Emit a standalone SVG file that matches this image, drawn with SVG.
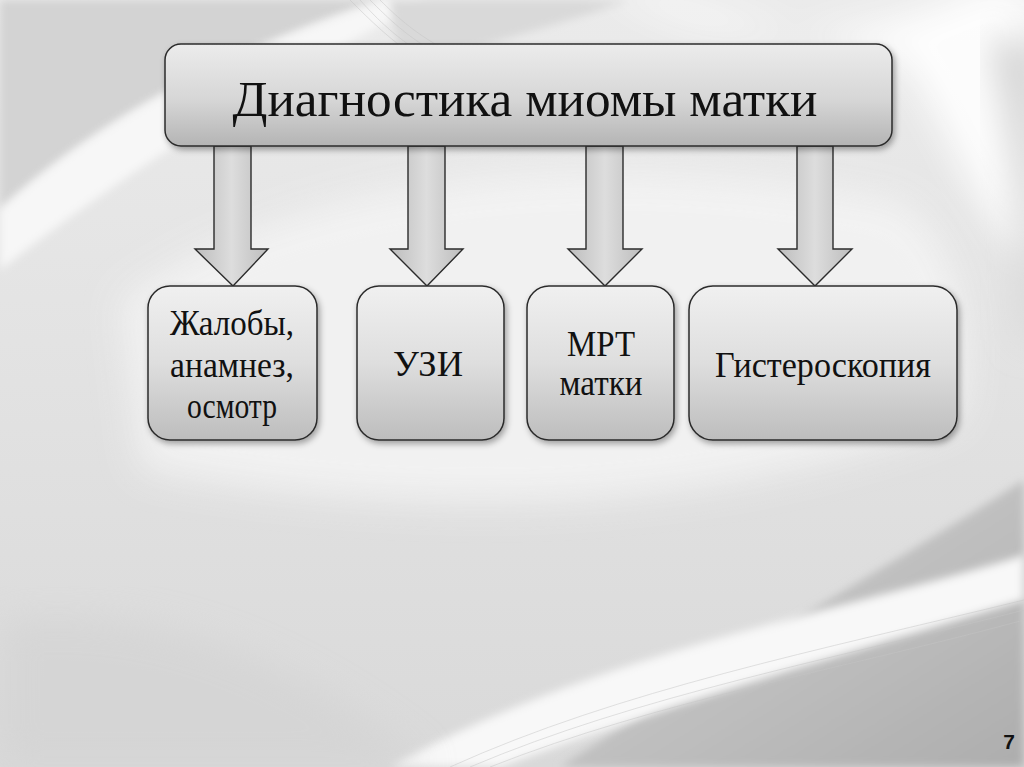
<svg xmlns="http://www.w3.org/2000/svg" width="1024" height="767" viewBox="0 0 1024 767">
<defs>
<linearGradient id="bg" x1="0" y1="0" x2="0" y2="1">
<stop offset="0" stop-color="#ebebeb"/>
<stop offset="1" stop-color="#d9d9d9"/>
</linearGradient>
<linearGradient id="dark" x1="0" y1="0" x2="1" y2="1">
<stop offset="0" stop-color="#d4d4d4"/>
<stop offset="1" stop-color="#adadad"/>
</linearGradient>
<linearGradient id="boxg" x1="0" y1="0" x2="0" y2="1">
<stop offset="0" stop-color="#f0f0f0"/>
<stop offset="0.5" stop-color="#dedede"/>
<stop offset="1" stop-color="#bdbdbd"/>
</linearGradient>
<linearGradient id="topg" x1="0" y1="0" x2="0" y2="1">
<stop offset="0" stop-color="#ececec"/>
<stop offset="0.55" stop-color="#d6d6d6"/>
<stop offset="1" stop-color="#b4b4b4"/>
</linearGradient>
<linearGradient id="arrg" x1="0" y1="0" x2="1" y2="0">
<stop offset="0" stop-color="#bdbdbd"/>
<stop offset="0.5" stop-color="#dddddd"/>
<stop offset="1" stop-color="#bdbdbd"/>
</linearGradient>
<filter id="sh" x="-10%" y="-10%" width="125%" height="130%">
<feDropShadow dx="2" dy="3" stdDeviation="3" flood-color="#000" flood-opacity="0.35"/>
</filter>
<filter id="blur" x="-20%" y="-20%" width="140%" height="140%">
<feGaussianBlur stdDeviation="18"/>
</filter>
<filter id="blur2" x="-20%" y="-20%" width="140%" height="140%">
<feGaussianBlur stdDeviation="4"/>
</filter>
</defs>
<style>
.box{stroke:#2b2b2b;stroke-width:1.5;filter:url(#sh)}
.arr{fill:url(#arrg);stroke:#2b2b2b;stroke-width:1.4;stroke-linejoin:miter}
.t{font-family:"Liberation Serif","Times New Roman",serif;fill:#111;text-anchor:middle}
.n{font-size:36px}
.wave{fill:none;stroke:#c4c4c4;stroke-width:0.7;opacity:0.7}
</style>
<g id="background">
<rect width="1024" height="767" fill="url(#bg)"/>
<path d="M0 0 L380 0 C260 40 120 100 0 210 Z" fill="#d3d3d3" filter="url(#blur2)"/>
<path d="M0 210 C110 110 240 50 385 0 L430 0 C290 70 140 160 0 270 Z" fill="#f7f7f7" filter="url(#blur2)"/>
<path d="M390 0 L630 0 C560 25 480 45 400 70 Z" fill="#d9d9d9" filter="url(#blur2)"/>
<path d="M600 -20 C720 60 880 40 990 -20 L1040 0 L1040 260 C980 240 950 120 900 60 Z" fill="#ffffff" opacity="0.9" filter="url(#blur)"/>
<path d="M120 300 C300 170 600 140 900 200 C960 240 980 330 960 420 C700 520 400 520 140 470 Z" fill="#f4f4f4" opacity="0.85" filter="url(#blur)"/>
<path d="M990 40 C1015 140 1024 220 1024 340 L1040 340 L1040 40 Z" fill="#d2d2d2" filter="url(#blur)"/>
<path d="M560 767 C740 650 900 560 1024 480 L1024 767 Z" fill="url(#dark)" filter="url(#blur2)"/>
<path d="M390 767 C600 650 850 610 1024 555 L1024 600 C860 650 680 700 500 767 Z" fill="#f8f8f8" filter="url(#blur2)"/>
<path d="M0 620 C150 600 300 660 430 767 L0 767 Z" fill="#d2d2d2" opacity="0.6" filter="url(#blur)"/>
<g class="wave">
<path d="M350 0 C370 20 390 40 420 60"/>
<path d="M360 0 C378 20 398 40 430 58"/>
<path d="M370 0 C388 18 408 38 440 55"/>
<path d="M380 0 C398 18 418 36 450 52"/>
<path d="M450 767 C620 690 820 650 1024 600"/>
<path d="M470 767 C640 695 830 660 1024 610"/>
<path d="M490 767 C660 700 840 670 1024 620"/>
</g>
</g>
<g id="connectors">
<polygon class="arr" points="214,146 251,146 251,249 268,249 233,286 195,249 214,249"/>
<polygon class="arr" points="408,146 445,146 445,249 463,249 427,286 390,249 408,249"/>
<polygon class="arr" points="586,146 623,146 623,249 642,249 605,286 568,249 586,249"/>
<polygon class="arr" points="797,146 833,146 833,249 852,249 815,286 778,249 797,249"/>
</g>
<g id="node-title">
<rect class="box" x="165" y="44" width="727" height="102" rx="16" fill="url(#topg)"/>
<text class="t" x="525" y="116" font-size="51" textLength="585" lengthAdjust="spacingAndGlyphs">Диагностика миомы матки</text>
</g>
<g id="node-complaints">
<rect class="box" x="148" y="286" width="169" height="154" rx="22" fill="url(#boxg)"/>
<text class="t n" x="232" y="335" textLength="124" lengthAdjust="spacingAndGlyphs">Жалобы,</text>
<text class="t n" x="232" y="377" textLength="124" lengthAdjust="spacingAndGlyphs">анамнез,</text>
<text class="t n" x="232" y="418" textLength="90" lengthAdjust="spacingAndGlyphs">осмотр</text>
</g>
<g id="node-uzi">
<rect class="box" x="357" y="286" width="147" height="154" rx="22" fill="url(#boxg)"/>
<text class="t n" x="428" y="376" textLength="70" lengthAdjust="spacingAndGlyphs">УЗИ</text>
</g>
<g id="node-mrt">
<rect class="box" x="527" y="286" width="147" height="154" rx="22" fill="url(#boxg)"/>
<text class="t n" x="601" y="356" textLength="68" lengthAdjust="spacingAndGlyphs">МРТ</text>
<text class="t n" x="601" y="395" textLength="83" lengthAdjust="spacingAndGlyphs">матки</text>
</g>
<g id="node-hysteroscopy">
<rect class="box" x="689" y="286" width="268" height="154" rx="24" fill="url(#boxg)"/>
<text class="t n" x="823" y="377" textLength="216" lengthAdjust="spacingAndGlyphs">Гистероскопия</text>
</g>
<text x="1009" y="749" font-family="Liberation Sans, Arial, sans-serif" font-weight="bold" font-size="21" fill="#111" text-anchor="middle">7</text>
</svg>
